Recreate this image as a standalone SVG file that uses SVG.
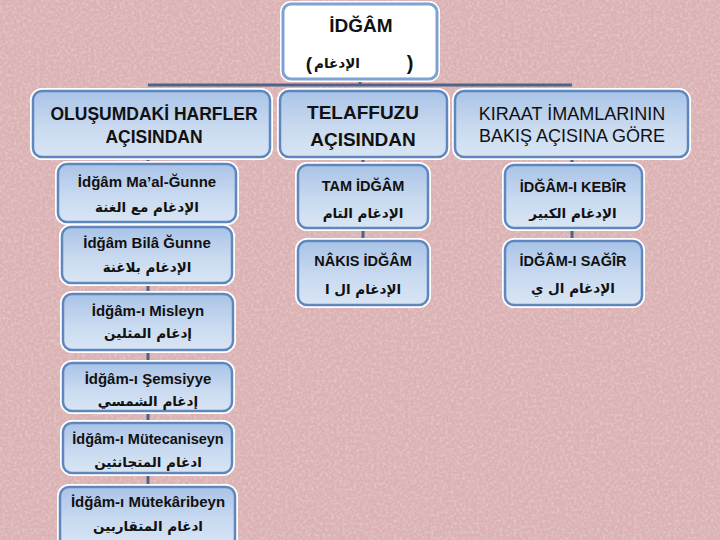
<svg xmlns="http://www.w3.org/2000/svg" width="720" height="540" viewBox="0 0 720 540">
<defs>
<linearGradient id="g" x1="0" y1="0" x2="0" y2="1">
<stop offset="0" stop-color="#a9c3e7"/>
<stop offset="0.55" stop-color="#c9daf0"/>
<stop offset="1" stop-color="#d8e5f4"/>
</linearGradient>
<filter id="tex" x="0" y="0" width="100%" height="100%">
<feTurbulence type="fractalNoise" baseFrequency="0.35" numOctaves="3" seed="5" result="n"/>
<feColorMatrix type="matrix" values="0 0 0 0 0.95  0 0 0 0 0.85  0 0 0 0 0.86  0 0 0 -2.2 1.3"/>
</filter>
<style>
.bg{fill:#dbb2b3}
.halo{fill:none;stroke:#ffffff;stroke-width:6}
.box{fill:url(#g);stroke:#5f86bd;stroke-width:2.5}
.topbox{fill:#ffffff;stroke:#7ea3d3;stroke-width:3}
.ln{stroke:#4d6388;stroke-width:3;fill:none}
.t{font-family:"Liberation Sans",Arial,sans-serif;fill:#111;text-anchor:middle}
.b{font-weight:bold}
.ar{font-family:"DejaVu Sans",sans-serif;fill:#111;text-anchor:middle;font-size:13.5px;font-weight:bold}
</style>
</defs>
<rect class="bg" x="0" y="0" width="720" height="540"/>
<rect x="0" y="0" width="720" height="540" filter="url(#tex)" opacity="0.35"/>

<g id="connectors">
<line class="ln" x1="360" y1="80" x2="360" y2="85"/>
<line class="ln" x1="148" y1="85" x2="572" y2="85"/>
<line class="ln" x1="148" y1="157" x2="148" y2="490" stroke-width="5"/>
<line class="ln" x1="363" y1="157" x2="363" y2="242"/>
<line class="ln" x1="572" y1="157" x2="572" y2="242"/>
</g>

<g id="root">
<rect class="halo" x="283" y="4" width="154" height="75" rx="8"/>
<rect class="topbox" x="283" y="4" width="154" height="75" rx="8"/>
<text class="t b" x="361" y="32" font-size="19">İDĞÂM</text>
<text class="t b" x="309" y="70" font-size="19">(</text>
<text class="ar" x="337" y="68" font-size="15">الإدغام</text>
<text class="t b" x="410" y="70" font-size="20">)</text>
</g>

<g id="n-olusum">
<rect class="halo" x="33" y="91" width="237" height="66" rx="9"/>
<rect class="box" x="33" y="91" width="237" height="66" rx="9"/>
<text class="t b" x="154" y="120" font-size="17.5">OLUŞUMDAKİ HARFLER</text>
<text class="t b" x="154" y="143" font-size="17.5">AÇISINDAN</text>
</g>
<g id="n-telaffuz">
<rect class="halo" x="280" y="91" width="167" height="66" rx="9"/>
<rect class="box" x="280" y="91" width="167" height="66" rx="9"/>
<text class="t b" x="363" y="119" font-size="19">TELAFFUZU</text>
<text class="t b" x="363" y="146" font-size="19">AÇISINDAN</text>
</g>
<g id="n-kiraat">
<rect class="halo" x="455" y="91" width="233" height="66" rx="9"/>
<rect class="box" x="455" y="91" width="233" height="66" rx="9"/>
<text class="t" x="572" y="120" font-size="18">KIRAAT İMAMLARININ</text>
<text class="t" x="572" y="142" font-size="18">BAKIŞ AÇISINA GÖRE</text>
</g>

<g id="n-magunne">
<rect class="halo" x="58" y="164" width="178" height="58" rx="9"/>
<rect class="box" x="58" y="164" width="178" height="58" rx="9"/>
<text class="t b" x="147" y="187" font-size="15">İdğâm Ma’al-Ğunne</text>
<text class="ar" x="147" y="212">الإدغام مع الغنة</text>
</g>
<g id="n-bilagunne">
<rect class="halo" x="62" y="227" width="170" height="56" rx="9"/>
<rect class="box" x="62" y="227" width="170" height="56" rx="9"/>
<text class="t b" x="147" y="248" font-size="15">İdğâm Bilâ Ğunne</text>
<text class="ar" x="147" y="272">الإدغام بلاغنة</text>
</g>
<g id="n-misleyn">
<rect class="halo" x="63" y="294" width="170" height="56" rx="9"/>
<rect class="box" x="63" y="294" width="170" height="56" rx="9"/>
<text class="t b" x="148" y="316" font-size="15">İdğâm-ı Misleyn</text>
<text class="ar" x="148" y="338">إدغام المثلين</text>
</g>
<g id="n-semsiyye">
<rect class="halo" x="63" y="363" width="169" height="48" rx="9"/>
<rect class="box" x="63" y="363" width="169" height="48" rx="9"/>
<text class="t b" x="148" y="384" font-size="15">İdğâm-ı Şemsiyye</text>
<text class="ar" x="148" y="406">إدغام الشمسي</text>
</g>
<g id="n-mutecaniseyn">
<rect class="halo" x="63" y="423" width="169" height="50" rx="9"/>
<rect class="box" x="63" y="423" width="169" height="50" rx="9"/>
<text class="t b" x="148" y="444" font-size="14.5">İdğâm-ı Mütecaniseyn</text>
<text class="ar" x="148" y="467">ادغام المتجانثين</text>
</g>
<g id="n-mutekaribeyn">
<rect class="halo" x="60" y="487" width="175" height="60" rx="9"/>
<rect class="box" x="60" y="487" width="175" height="60" rx="9"/>
<text class="t b" x="148" y="507" font-size="15">İdğâm-ı Mütekâribeyn</text>
<text class="ar" x="148" y="531">ادغام المتقاربين</text>
</g>

<g id="n-tam">
<rect class="halo" x="298" y="165" width="130" height="63" rx="9"/>
<rect class="box" x="298" y="165" width="130" height="63" rx="9"/>
<text class="t b" x="363" y="191" font-size="14.5">TAM İDĞÂM</text>
<text class="ar" x="363" y="218">الإدغام التام</text>
</g>
<g id="n-nakis">
<rect class="halo" x="298" y="241" width="130" height="64" rx="9"/>
<rect class="box" x="298" y="241" width="130" height="64" rx="9"/>
<text class="t b" x="363" y="266" font-size="14.5">NÂKIS İDĞÂM</text>
<text class="ar" x="363" y="294">الإدغام ال ا</text>
</g>
<g id="n-kebir">
<rect class="halo" x="505" y="165" width="137" height="63" rx="9"/>
<rect class="box" x="505" y="165" width="137" height="63" rx="9"/>
<text class="t b" x="573" y="192" font-size="14.5">İDĞÂM-I KEBÎR</text>
<text class="ar" x="573" y="218">الإدغام الكبير</text>
</g>
<g id="n-sagir">
<rect class="halo" x="505" y="241" width="137" height="64" rx="9"/>
<rect class="box" x="505" y="241" width="137" height="64" rx="9"/>
<text class="t b" x="573" y="266" font-size="14.5">İDĞÂM-I SAĞÎR</text>
<text class="ar" x="573" y="293">الإدغام ال ي</text>
</g>
</svg>
